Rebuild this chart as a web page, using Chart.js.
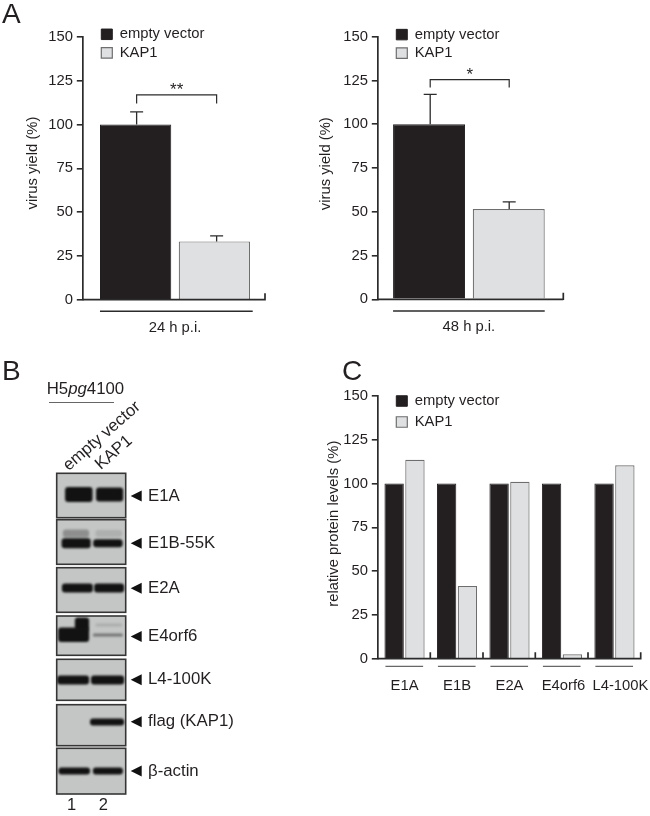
<!DOCTYPE html>
<html>
<head>
<meta charset="utf-8">
<title>KAP1 virus yield and protein levels</title>
<script src="https://cdn.jsdelivr.net/npm/chart.js@4"></script>
<style>
  html, body { margin: 0; padding: 0; background: #fff; }
  #page { position: relative; width: 650px; height: 816px; overflow: hidden; font-family: "Liberation Sans", Arial, sans-serif; color: #231f20; filter: blur(0.3px); }
  #page canvas { position: absolute; }
  .letter { position: absolute; font-size: 28px; line-height: 28px; }
  .blot-text { position: absolute; font-size: 16.8px; line-height: 20px; white-space: nowrap; }
  .slanted { transform-origin: 0 100%; }
  #header-rule { position: absolute; left: 49px; top: 402px; width: 65px; height: 1px; background: #666; }
</style>
</head>
<body>
<div id="page">
  <div class="letter" style="left:2px;top:0">A</div>
  <div class="letter" style="left:2px;top:357px">B</div>
  <div class="letter" style="left:342px;top:357px">C</div>
  <div class="blot-text" style="left:46.7px;top:378.5px">H5<i>pg</i>4100</div>
  <div id="header-rule"></div>
  <div class="blot-text slanted" style="left:72px;top:455px;transform:rotate(-41deg)">empty vector</div>
  <div class="blot-text slanted" style="left:104px;top:454px;transform:rotate(-41deg)">KAP1</div>
  <canvas id="chart-24h" width="310" height="345" style="left:0;top:0;width:310px;height:345px"></canvas>
  <canvas id="chart-48h" width="310" height="345" style="left:300px;top:0;width:310px;height:345px"></canvas>
  <canvas id="chart-levels" width="340" height="350" style="left:310px;top:350px;width:340px;height:350px"></canvas>
  <canvas id="chart-blot" width="260" height="356" style="left:40px;top:460px;width:260px;height:356px"></canvas>
</div>

<script>
// ── Chart data ───────────────────────────────────────────
const SERIES_NAMES = ["empty vector", "KAP1"];
const TIMEPOINTS = ["24 h p.i.", "48 h p.i."];
const YIELD_EMPTY = [100, 100];
const YIELD_KAP1 = [33.3, 51.6];
const ERROR_EMPTY = [7.2, 17];
const ERROR_KAP1 = [3.2, 4];
const SIGNIFICANCE = ["**", "*"];

const PROTEINS = ["E1A", "E1B", "E2A", "E4orf6", "L4-100K"];
const LEVELS_EMPTY = [100, 100, 100, 100, 100];
const LEVELS_KAP1 = [113.6, 41.5, 101, 2.5, 110.4];

const Y_TICKS_MAX = 150;
const Y_TICKS_STEP = 25;

// ── Blot data (lane units, 1 and 2 are the numbered lanes) ──
const BLOTS = ["E1A", "E1B-55K", "E2A", "E4orf6", "L4-100K", "flag (KAP1)", "β-actin"];
const LANE_NUMBERS = [1, 2];
const LANE1_BANDS = [[0.79, 1.66], [0.68, 1.6], [0.69, 1.67], [0.57, 1.55], [0.54, 1.55], null, [0.58, 1.58]];
const LANE2_BANDS = [[1.77, 2.63], [1.68, 2.61], [1.71, 2.66], [1.67, 2.62], [1.61, 2.66], [1.58, 2.66], [1.67, 2.62]];
const LANE1_UPPER = [null, [0.72, 1.55], null, [1.1, 1.55], null, null, null];
const LANE2_UPPER = [null, [1.75, 2.6], null, [1.75, 2.6], null, null, null];
const LANE1_DENSITY = [1, 1, 1, 1, 1, 0, 1];
const LANE2_DENSITY = [1, 1, 1, 0.45, 1, 1, 1];
const LANE1_UPPER_DENSITY = [0, 0.3, 0, 1, 0, 0, 0];
const LANE2_UPPER_DENSITY = [0, 0.12, 0, 0.13, 0, 0, 0];

// ── Shared theme ─────────────────────────────────────────
const INK = "#231f20";
const AXIS_COLOR = "#2b2b2b";
const BAR_DARK = "#231f20";
const BAR_LIGHT = "#dfe0e2";
const BAR_LIGHT_EDGE = "#6e6e6e";
const FONT_SIZE = 14.8;

Chart.defaults.font.family = "'Liberation Sans', Arial, sans-serif";
Chart.defaults.font.size = FONT_SIZE;
Chart.defaults.color = INK;
Chart.defaults.animation = false;
Chart.defaults.responsive = false;

// ── Figure plugin: axis ends, error bars, brackets, axis title ──
const figurePlugin = {
  id: "figure",
  afterLayout(chart, args, opts) {
    // legend sits partly above the plot, so it is placed by hand
    const legend = chart.legend;
    const pad = chart.options.plugins.legend.labels.padding;
    legend.left = opts.legendX - pad;
    legend.top = opts.legendY - pad;
    legend.right = legend.left + 170;
    legend.bottom = legend.top + 70;
    legend.width = 170;
    legend.height = 70;
  },
  beforeDraw(chart, args, opts) {
    const x = chart.scales.x;
    (opts.labelNudge || []).forEach((dx, i) => {
      const item = x.getLabelItems()[i];
      if (item && dx && !item.nudged) {
        item.options.translation[0] += dx;
        item.nudged = true;
      }
    });
  },
  afterDatasetsDraw(chart, args, opts) {
    const { ctx, chartArea } = chart;
    const { x, y } = chart.scales;
    const bottom = chartArea.bottom;
    ctx.save();
    ctx.strokeStyle = AXIS_COLOR;
    ctx.lineCap = "butt";

    // x axis line with upward ticks at the end of each category
    ctx.lineWidth = 1.7;
    ctx.beginPath();
    ctx.moveTo(chartArea.left - 1, bottom);
    ctx.lineTo(opts.axisEnd, bottom);
    opts.boundaries.forEach(px => {
      ctx.moveTo(px, bottom + 0.8);
      ctx.lineTo(px, bottom - 6.5);
    });
    ctx.stroke();

    // rule under each group of bars
    ctx.lineWidth = opts.ruleWidth;
    ctx.beginPath();
    const first = chart.getDatasetMeta(0).data;
    const second = chart.getDatasetMeta(1).data;
    first.forEach((bar, i) => {
      ctx.moveTo(bar.x - bar.width / 2 + opts.ruleInset[0], opts.ruleY);
      ctx.lineTo(second[i].x + second[i].width / 2 + opts.ruleInset[1], opts.ruleY);
    });
    ctx.stroke();

    // error bars
    ctx.lineWidth = 1.3;
    (opts.errors || []).forEach((err, d) => {
      const bar = chart.getDatasetMeta(d).data[0];
      const value = chart.data.datasets[d].data[0];
      const cx = bar.x + opts.errorNudge[d];
      const top = y.getPixelForValue(value + err);
      ctx.beginPath();
      ctx.moveTo(cx, y.getPixelForValue(value));
      ctx.lineTo(cx, top);
      ctx.moveTo(cx - 6.5, top);
      ctx.lineTo(cx + 6.5, top);
      ctx.stroke();
    });

    // significance bracket
    if (opts.bracket) {
      const b = opts.bracket;
      const x0 = chart.getDatasetMeta(0).data[0].x + opts.errorNudge[0];
      const x1 = chart.getDatasetMeta(1).data[0].x + opts.errorNudge[1];
      const yTop = y.getPixelForValue(b.top);
      const yEnd = y.getPixelForValue(b.leg);
      ctx.lineWidth = 1.2;
      ctx.beginPath();
      ctx.moveTo(x0, yEnd);
      ctx.lineTo(x0, yTop);
      ctx.lineTo(x1, yTop);
      ctx.lineTo(x1, yEnd);
      ctx.stroke();
      ctx.fillStyle = INK;
      ctx.font = "17px 'Liberation Sans', Arial, sans-serif";
      ctx.textAlign = "center";
      ctx.textBaseline = "middle";
      ctx.fillText(b.label, (x0 + x1) / 2, yTop - 4);
    }

    // y axis title, sits a little above the middle of the axis
    ctx.fillStyle = INK;
    ctx.font = FONT_SIZE + "px 'Liberation Sans', Arial, sans-serif";
    ctx.textAlign = "center";
    ctx.textBaseline = "middle";
    ctx.translate(opts.titleX, opts.titleY);
    ctx.rotate(-Math.PI / 2);
    ctx.fillText(opts.title, 0, 0);
    ctx.restore();
  }
};

/**
 * Build one grouped bar chart.
 * frame gives the plot edges in canvas pixels.
 */
function buildBarChart(id, labels, emptyValues, kap1Values, cfg) {
  const canvas = document.getElementById(id);
  const f = cfg.frame;
  const step = (f.right - f.left) / labels.length;
  const boundaries = cfg.axisTicks || [cfg.axisEnd];
  return new Chart(canvas, {
    type: "bar",
    plugins: [figurePlugin],
    data: {
      labels: labels,
      datasets: [
        { label: SERIES_NAMES[0], data: emptyValues, backgroundColor: BAR_DARK, borderColor: BAR_DARK, borderWidth: 1 },
        { label: SERIES_NAMES[1], data: kap1Values, backgroundColor: BAR_LIGHT, borderColor: BAR_LIGHT_EDGE, borderWidth: 1.2 }
      ]
    },
    options: {
      categoryPercentage: cfg.groupWidth / step,
      barPercentage: cfg.barShare,
      layout: { padding: { left: 0, top: f.top, right: canvas.width - f.right, bottom: 0 } },
      plugins: {
        tooltip: { enabled: false },
        legend: {
          position: "chartArea",
          align: "start",
          labels: { boxWidth: 11, boxHeight: 10.5, padding: cfg.legendGap, color: INK, font: { size: FONT_SIZE } }
        },
        figure: {
          legendX: cfg.legendX,
          legendY: cfg.legendY,
          axisEnd: cfg.axisEnd,
          boundaries: boundaries,
          ruleY: cfg.ruleY,
          ruleWidth: cfg.ruleWidth,
          ruleInset: cfg.ruleInset,
          errors: cfg.errors,
          errorNudge: cfg.errorNudge || [0, 0],
          bracket: cfg.bracket,
          title: cfg.title,
          titleX: cfg.titleX,
          titleY: cfg.titleY,
          labelNudge: cfg.labelNudge
        }
      },
      scales: {
        x: {
          grid: { display: false },
          border: { display: false },
          ticks: { padding: cfg.labelPadding, maxRotation: 0, autoSkip: false, font: { size: FONT_SIZE } },
          afterFit: s => {
            s.height = canvas.height - f.bottom;
            // tick padding must not push the plot in from the sides
            s.paddingLeft = 0;
            s.paddingRight = 0;
          }
        },
        y: {
          min: 0,
          max: Y_TICKS_MAX,
          grid: { drawOnChartArea: false, drawTicks: true, tickLength: 6.5, color: AXIS_COLOR, lineWidth: 1.6 },
          border: { display: true, color: AXIS_COLOR, width: 1.7 },
          ticks: { stepSize: Y_TICKS_STEP, padding: 3.8, font: { size: FONT_SIZE } },
          afterFit: s => {
            s.width = f.left;
            s.paddingTop = 0;
            s.paddingBottom = 0;
          }
        }
      }
    }
  });
}

// ── Panel A ──────────────────────────────────────────────
buildBarChart("chart-24h", [TIMEPOINTS[0]], [YIELD_EMPTY[0]], [YIELD_KAP1[0]], {
  frame: { left: 83.3, right: 266.7, top: 37, bottom: 299.7 },
  groupWidth: 157.5, barShare: 0.905,
  legendX: 101.3, legendY: 26.9, legendGap: 3.7,
  axisEnd: 265,
  ruleY: 311.3, ruleWidth: 1.5, ruleInset: [0, 2.7],
  errors: [ERROR_EMPTY[0], ERROR_KAP1[0]], errorNudge: [1, 2.25],
  bracket: { top: 117, leg: 112, label: SIGNIFICANCE[0] },
  title: "virus yield (%)", titleX: 33, titleY: 163,
  labelPadding: 11.5
});

buildBarChart("chart-48h", [TIMEPOINTS[1]], [YIELD_EMPTY[1]], [YIELD_KAP1[1]], {
  frame: { left: 78.3, right: 259.5, top: 36.7, bottom: 299.3 },
  groupWidth: 159.4, barShare: 0.903,
  legendX: 96.3, legendY: 27.2, legendGap: 3.7,
  axisEnd: 263.3,
  ruleY: 311, ruleWidth: 1.5, ruleInset: [0, 0],
  errors: [ERROR_EMPTY[1], ERROR_KAP1[1]], errorNudge: [1.15, 0.45],
  bracket: { top: 125.5, leg: 121, label: SIGNIFICANCE[1] },
  title: "virus yield (%)", titleX: 26, titleY: 163.7,
  labelPadding: 11
});

// ── Panel C ──────────────────────────────────────────────
buildBarChart("chart-levels", PROTEINS, LEVELS_EMPTY, LEVELS_KAP1, {
  frame: { left: 68.3, right: 330.7, top: 46, bottom: 308.7 },
  groupWidth: 41.6, barShare: 0.93,
  legendX: 86.3, legendY: 43.6, legendGap: 6.2,
  axisEnd: 330.7,
  axisTicks: [120.3, 173, 225.3, 278, 330.7],
  ruleY: 316.3, ruleWidth: 0.9, ruleInset: [1, -1.5],
  title: "relative protein levels (%)", titleX: 24, titleY: 173.7,
  labelPadding: 10,
  labelNudge: [0, 0, 0, 1.5, 6]
});

// ── Panel B: blots as horizontal floating bars ───────────
const BLOT_TOP = 460; // canvas top on the page
const PANEL_EDGES = [[473.3, 517.7], [519.7, 564.3], [567.7, 612.3], [616, 655.3], [659.3, 700.3], [704.7, 745.7], [748.3, 794]];
const LABEL_NUDGE = [0, 1.4, 0.6, 3, 0.5, -3.4, 0];
// band centre (page y) and thickness for each dataset
const BAND_SHAPES = [
  { y: [494.5, 543.3, 588, 634.8, 680, 722, 771], h: [15, 10, 9, 14.5, 9, 0, 7] },
  { y: [494.5, 543.3, 588, 635, 680, 722, 771], h: [14, 8, 9, 3, 9, 7, 7] },
  { y: [0, 533.5, 0, 624, 0, 0, 0], h: [0, 8, 0, 13, 0, 0, 0] },
  { y: [0, 533.5, 0, 625, 0, 0, 0], h: [0, 7, 0, 3, 0, 0, 0] }
];

const bandColors = densities => densities.map(d => `rgba(18,18,18,${d})`);

const blotPlugin = {
  id: "blot",
  beforeDraw(chart) {
    const items = chart.scales.y.getLabelItems();
    items.forEach((item, i) => {
      if (!item.nudged) {
        item.options.translation[1] += LABEL_NUDGE[i];
        item.nudged = true;
      }
    });
    // each band keeps its own place and thickness on the film
    chart.data.datasets.forEach((ds, d) => {
      chart.getDatasetMeta(d).data.forEach((bar, i) => {
        bar.y = BAND_SHAPES[d].y[i] - BLOT_TOP;
        bar.height = BAND_SHAPES[d].h[i];
      });
    });
  },
  beforeDatasetsDraw(chart) {
    const { ctx, chartArea } = chart;
    ctx.save();
    ctx.fillStyle = "#c4c5c5";
    ctx.strokeStyle = "#363636";
    ctx.lineWidth = 1.6;
    PANEL_EDGES.forEach(([top, bottom]) => {
      const w = chartArea.right - chartArea.left;
      ctx.fillRect(chartArea.left, top - BLOT_TOP, w, bottom - top);
      ctx.strokeRect(chartArea.left, top - BLOT_TOP, w, bottom - top);
    });
    ctx.restore();
  },
  beforeDatasetDraw(chart) {
    chart.ctx.save();
    chart.ctx.filter = "blur(1.2px)";
  },
  afterDatasetDraw(chart) {
    chart.ctx.restore();
  },
  afterDraw(chart) {
    const { ctx, chartArea, scales } = chart;
    ctx.save();
    ctx.fillStyle = "#111";
    BLOTS.forEach((name, i) => {
      const cy = scales.y.getPixelForValue(i) + LABEL_NUDGE[i];
      ctx.beginPath();
      ctx.moveTo(chartArea.right + 5, cy);
      ctx.lineTo(chartArea.right + 16, cy - 5.5);
      ctx.lineTo(chartArea.right + 16, cy + 5.5);
      ctx.closePath();
      ctx.fill();
    });
    ctx.restore();
  }
};

const blotCanvas = document.getElementById("chart-blot");
const bandStyle = { grouped: false, borderWidth: 0, borderRadius: 3, borderSkipped: false };

new Chart(blotCanvas, {
  type: "bar",
  plugins: [blotPlugin],
  data: {
    labels: BLOTS,
    datasets: [
      { label: "lane 1", data: LANE1_BANDS, backgroundColor: bandColors(LANE1_DENSITY), ...bandStyle },
      { label: "lane 2", data: LANE2_BANDS, backgroundColor: bandColors(LANE2_DENSITY), ...bandStyle },
      { label: "lane 1 upper", data: LANE1_UPPER, backgroundColor: bandColors(LANE1_UPPER_DENSITY), ...bandStyle },
      { label: "lane 2 upper", data: LANE2_UPPER, backgroundColor: bandColors(LANE2_UPPER_DENSITY), ...bandStyle }
    ]
  },
  options: {
    indexAxis: "y",
    layout: { padding: { left: 16.7, top: 13, right: 0, bottom: 0 } },
    plugins: { legend: { display: false }, tooltip: { enabled: false } },
    scales: {
      x: {
        type: "linear",
        min: 0.525,
        max: 2.709,
        grid: { display: false, drawTicks: false },
        border: { display: false },
        afterBuildTicks: s => { s.ticks = LANE_NUMBERS.map(v => ({ value: v })); },
        ticks: { padding: 2, font: { size: 16.5 } },
        afterFit: s => {
          s.height = blotCanvas.height - 334;
          s.paddingLeft = 0;
          s.paddingRight = 0;
        }
      },
      y: {
        type: "category",
        position: "right",
        grid: { display: false },
        border: { display: false },
        ticks: { padding: 14.3, autoSkip: false, font: { size: 16.8 } },
        afterFit: s => {
          s.width = blotCanvas.width - 85.7;
          s.paddingTop = 0;
          s.paddingBottom = 0;
        }
      }
    }
  }
});
</script>
</body>
</html>
